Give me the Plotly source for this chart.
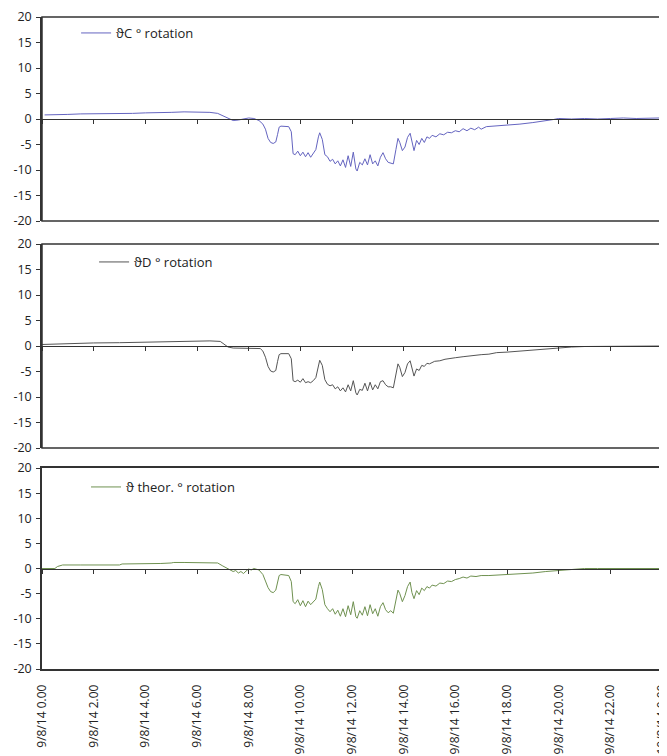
import plotly.graph_objects as go

# ---------------- data (hours since 9/8/14 0.00) ----------------
hours_c = [0.1, 0.5, 1, 1.5, 2, 2.5, 3, 3.5, 4, 4.5, 5, 5.5, 6, 6.5, 6.8, 7.0, 7.2, 7.4, 7.6, 7.8,
           8.0, 8.2, 8.4, 8.55, 8.65, 8.75, 8.85, 8.95, 9.05, 9.12, 9.18, 9.25, 9.4, 9.55, 9.65, 9.72,
           9.8, 9.9, 10.0, 10.1, 10.2, 10.3, 10.4, 10.5, 10.6, 10.7, 10.75, 10.85, 10.95, 11.05, 11.15,
           11.25, 11.35, 11.45, 11.55, 11.65, 11.75, 11.85, 11.95, 12.05, 12.15, 12.2, 12.3, 12.4, 12.5,
           12.6, 12.7, 12.8, 12.9, 13.0, 13.1, 13.2, 13.3, 13.4, 13.5, 13.6, 13.7, 13.78, 13.85, 13.95,
           14.05, 14.15, 14.25, 14.32, 14.4, 14.5, 14.6, 14.7, 14.8, 14.9, 15.0, 15.1, 15.25, 15.4, 15.55,
           15.7, 15.85, 16.0, 16.15, 16.3, 16.45, 16.6, 16.75, 16.9, 17.0, 17.2, 17.5, 17.8, 18.0, 18.5,
           19.0, 19.5, 19.8, 20.0, 20.5, 21, 21.5, 22, 22.5, 23, 23.5, 23.9]
theta_c = [0.8, 0.8, 0.9, 1.0, 1.0, 1.0, 1.1, 1.1, 1.2, 1.2, 1.3, 1.4, 1.4, 1.3, 1.1, 0.6, 0.1, -0.3, -0.2, 0.0,
           0.2, 0.1, -0.3, -1.0, -2.0, -3.8, -4.6, -4.8, -4.5, -3.0, -1.6, -1.4, -1.4, -1.5, -2.5, -6.8,
           -7.0, -6.3, -7.2, -6.5, -7.4, -6.6, -7.5, -6.8, -6.0, -3.5, -2.7, -4.0, -7.0, -7.4, -8.3,
           -7.9, -8.8, -8.2, -9.2, -8.0, -9.5, -7.2, -9.3, -6.5, -9.8, -10.2, -8.5, -9.0, -7.8,
           -9.0, -7.0, -8.8, -8.2, -9.2, -7.5, -6.6, -7.8, -8.5, -8.6, -8.8, -6.0, -3.8, -4.6, -6.2,
           -5.5, -3.6, -2.8, -4.5, -6.2, -4.2, -5.0, -3.8, -4.6, -3.5, -3.8, -3.2, -3.5, -2.9, -3.1,
           -2.6, -2.7, -2.3, -2.5, -1.9, -2.3, -1.8, -2.1, -1.6, -2.0, -1.5, -1.4, -1.3, -1.2, -1.0,
           -0.7, -0.4, -0.1, 0.1, 0.0, 0.1, 0.0, 0.1, 0.2, 0.1, 0.1, 0.2]

hours_d = [0.0, 0.5, 1.0, 1.5, 2.0, 3.0, 4.0, 5.0, 5.5, 6.0, 6.5, 6.9, 7.05, 7.2, 7.4, 7.8, 8.2, 8.45,
           8.55, 8.65, 8.75, 8.85, 8.95, 9.05, 9.12, 9.18, 9.25, 9.4, 9.55, 9.65, 9.72, 9.8, 9.9, 10.0,
           10.1, 10.2, 10.3, 10.4, 10.5, 10.6, 10.68, 10.75, 10.85, 10.95, 11.05, 11.15, 11.25, 11.35,
           11.45, 11.55, 11.65, 11.75, 11.85, 11.95, 12.05, 12.15, 12.2, 12.3, 12.4, 12.5, 12.6, 12.7,
           12.8, 12.9, 13.0, 13.1, 13.2, 13.3, 13.4, 13.5, 13.6, 13.7, 13.78, 13.85, 13.95, 14.05, 14.15,
           14.25, 14.32, 14.4, 14.5, 14.6, 14.7, 14.8, 14.9, 15.0, 15.2, 15.4, 15.6, 15.8, 16.0, 16.3,
           16.6, 17.0, 17.3, 17.6, 18.0, 18.5, 19.0, 19.5, 20.0, 20.5, 21.0, 21.5, 22.0, 22.5, 23.0, 23.9]
theta_d = [0.3, 0.4, 0.5, 0.55, 0.6, 0.65, 0.75, 0.85, 0.95, 1.0, 1.0, 0.9, 0.3, -0.2, -0.4, -0.4, -0.4, -0.5,
           -1.0, -2.2, -4.0, -4.9, -5.1, -4.8, -3.0, -1.7, -1.5, -1.5, -1.5, -2.5, -6.8, -7.0, -6.7, -7.1,
           -6.4, -7.2, -7.0, -7.2, -6.8, -6.2, -4.0, -2.8, -3.8, -6.6, -7.5, -7.8, -7.6, -8.4,
           -8.0, -8.8, -8.2, -9.0, -7.6, -8.8, -6.8, -9.2, -9.6, -8.5, -8.7, -7.3, -8.8, -7.1,
           -8.6, -7.6, -8.4, -7.0, -6.8, -7.6, -8.0, -8.0, -8.2, -5.8, -3.5, -4.2, -6.0, -5.2, -3.5,
           -2.9, -4.6, -5.9, -4.5, -4.8, -3.8, -4.0, -3.4, -3.5, -3.0, -2.9, -2.6, -2.5, -2.3, -2.1,
           -1.9, -1.7, -1.6, -1.3, -1.2, -1.0, -0.8, -0.5, -0.3, -0.2, -0.1, -0.1, 0.0, 0.0, 0.0, 0.0]

hours_t = [0.0, 0.5, 0.6, 0.8, 1.5, 2.0, 2.5, 3.0, 3.1, 3.5, 4.0, 4.3, 4.6, 5.0, 5.1, 5.5, 6.0, 6.5, 6.8,
           7.0, 7.2, 7.4, 7.5, 7.6, 7.7, 7.8, 7.9, 8.0, 8.1, 8.2, 8.4, 8.55, 8.65, 8.75, 8.85, 8.95, 9.05,
           9.12, 9.18, 9.25, 9.4, 9.55, 9.65, 9.72, 9.8, 9.9, 10.0, 10.1, 10.2, 10.3, 10.4, 10.5, 10.6,
           10.7, 10.75, 10.85, 10.95, 11.05, 11.15, 11.25, 11.35, 11.45, 11.55, 11.65, 11.75, 11.85,
           11.95, 12.05, 12.15, 12.2, 12.3, 12.4, 12.5, 12.6, 12.7, 12.8, 12.9, 13.0, 13.1, 13.2, 13.3,
           13.4, 13.5, 13.6, 13.7, 13.78, 13.85, 13.95, 14.05, 14.15, 14.25, 14.32, 14.4, 14.5, 14.6,
           14.7, 14.8, 14.9, 15.0, 15.1, 15.25, 15.4, 15.55, 15.7, 15.85, 16.0, 16.15, 16.3, 16.45, 16.6,
           16.8, 17.0, 17.3, 17.7, 18.0, 18.5, 19.0, 19.5, 20.0, 20.5, 21.0, 21.5, 22.0, 23.0, 23.9]
theta_t = [0.0, 0.0, 0.4, 0.7, 0.7, 0.7, 0.7, 0.7, 0.9, 0.9, 0.9, 1.0, 1.0, 1.1, 1.2, 1.2, 1.2, 1.2, 1.1,
           0.5, -0.1, -0.6, -0.4, -0.9, -0.6, -1.0, -0.5, -0.1, -0.3, 0.0, -0.3, -1.2, -2.5, -3.8, -4.6, -4.8, -4.3,
           -2.6, -1.4, -1.2, -1.3, -1.4, -2.6, -6.6, -7.0, -6.2, -7.4, -6.4, -7.6, -6.5, -7.2, -6.6, -6.1,
           -3.6, -2.7, -4.2, -7.2, -8.0, -8.6, -8.0, -9.1, -8.3, -9.5, -8.0, -9.6, -7.4, -9.2, -6.6,
           -9.6, -9.9, -8.4, -9.3, -7.6, -9.4, -7.2, -9.0, -8.0, -9.5, -7.6, -6.8, -8.2, -8.8, -8.4,
           -8.9, -6.2, -4.3, -5.0, -6.6, -5.4, -3.6, -2.7, -4.8, -6.0, -4.4, -5.2, -3.9, -4.4, -3.6, -3.9,
           -3.3, -3.5, -2.9, -3.0, -2.5, -2.6, -2.2, -2.0, -1.7, -1.9, -1.5, -1.6, -1.4, -1.4, -1.3, -1.2,
           -1.1, -0.9, -0.6, -0.4, -0.2, 0.0, 0.0, 0.0, 0.0, 0.0]

tick_hours = [0, 2, 4, 6, 8, 10, 12, 14, 16, 18, 20, 22, 24]
tick_labels = ["9/8/14 0.00", "9/8/14 2.00", "9/8/14 4.00", "9/8/14 6.00", "9/8/14 8.00",
               "9/8/14 10.00", "9/8/14 12.00", "9/8/14 14.00", "9/8/14 16.00", "9/8/14 18.00",
               "9/8/14 20.00", "9/8/14 22.00", "10/8/14 0.00"]
y_ticks = [-20, -15, -10, -5, 0, 5, 10, 15, 20]
y_tick_labels = ["-20", "-15", "-10", "-5", "0", "5", "10", "15", "20"]

series_names = ["ϑC ° rotation", "ϑD ° rotation", "ϑ theor. ° rotation"]
series_colors = ["#6464c0", "#555555", "#6f9150"]

# ---------------- figure ----------------
# page body adds an 8px margin, so the figure is sized to fit the window
W, H = 659, 748
ML, MR, MT, MB = 34, 5, 9, 87
ph = H - MT - MB
bottom_px = H - MB
panels_px = [(9, 213), (236, 440), (460, 661)]
domains = [[(bottom_px - b) / ph, (bottom_px - t) / ph] for t, b in panels_px]

FONT = "'Open Sans', sans-serif"
AX = "#333333"

fig = go.Figure()
data = [(hours_c, theta_c), (hours_d, theta_d), (hours_t, theta_t)]
for i, ((xs, ys), name, col) in enumerate(zip(data, series_names, series_colors)):
    sx = "" if i == 0 else str(i + 1)
    fig.add_trace(go.Scatter(x=xs, y=ys, mode="lines", name=name,
                             line=dict(color=col, width=1),
                             xaxis="x" + sx, yaxis="y" + sx,
                             legend="legend" + sx))

layout = dict(width=W, height=H, margin=dict(l=ML, r=MR, t=MT, b=MB, autoexpand=False),
              plot_bgcolor="white", paper_bgcolor="white",
              font=dict(family=FONT, size=12, color="#222"), showlegend=True)

for i, dom in enumerate(domains):
    sx = "" if i == 0 else str(i + 1)
    mid = dom[0] + (dom[1] - dom[0]) * 0.5
    layout["xaxis" + sx] = dict(range=[0, 24], anchor="free", position=mid,
                                tickvals=tick_hours, ticks="outside", ticklen=4,
                                tickcolor=AX, showticklabels=False, showline=True,
                                linecolor=AX, linewidth=1.3, showgrid=False, zeroline=False)
    layout["yaxis" + sx] = dict(domain=dom, range=[-20, 20], tickvals=y_ticks,
                                ticktext=y_tick_labels,
                                ticks="outside", ticklen=4, tickcolor=AX,
                                showline=True, linecolor=AX, linewidth=1.5, mirror=True,
                                showgrid=False, zeroline=False, anchor="x" + sx,
                                ticklabelstandoff=2,
                                tickfont=dict(size=12.5, color="#222"))

# bottom axis carrying the date labels
layout["xaxis4"] = dict(range=[0, 24], overlaying="x3", anchor="y3", side="bottom",
                        tickvals=tick_hours, ticktext=tick_labels, tickangle=-90,
                        ticks="", showline=True, linecolor=AX, linewidth=1.5, mirror=True,
                        showgrid=False, zeroline=False, ticklabelstandoff=9,
                        ticklabeloverflow="allow",
                        tickfont=dict(size=12, color="#222"))
fig.add_trace(go.Scatter(x=[], y=[], xaxis="x4", yaxis="y3", showlegend=False))

# frames for the upper panels
shapes = []
for i in range(2):
    sx = "" if i == 0 else str(i + 1)
    shapes.append(dict(type="rect", xref="x" + sx + " domain", yref="y" + sx + " domain",
                       x0=0, x1=1, y0=0, y1=1, line=dict(color=AX, width=1.5)))
layout["shapes"] = shapes

leg_pos = [(0.055, (bottom_px - 25) / ph), (0.084, (bottom_px - 254) / ph),
           (0.071, (bottom_px - 479) / ph)]
for i, (lx, ly) in enumerate(leg_pos):
    key = "legend" if i == 0 else "legend" + str(i + 1)
    layout[key] = dict(x=lx, y=ly, xanchor="left", yanchor="middle",
                       bgcolor="rgba(0,0,0,0)", font=dict(size=13, color="#222"))

fig.update_layout(**layout)
fig.write_html("out.html")
